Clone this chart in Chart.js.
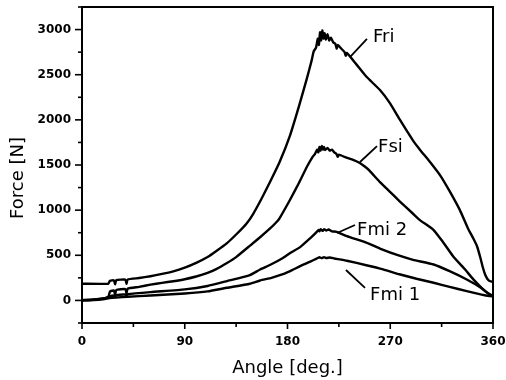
<!DOCTYPE html>
<html>
<head>
<meta charset="utf-8">
<script src="https://cdn.jsdelivr.net/npm/chart.js@4/dist/chart.umd.min.js"></script>
<style>
  html, body { margin: 0; padding: 0; background: #fff; }
  #wrap { width: 506px; height: 380px; }
</style>
</head>
<body>
<div id="wrap"><canvas id="chart" width="506" height="380"></canvas></div>
<script>
// angle in degrees, force in N
const angleFri = [0, 23, 24.5, 28, 29, 30, 38, 39, 40, 50, 60, 68, 80, 90, 100, 110, 118, 127, 135, 144, 150, 157, 165, 173, 182, 190, 197, 201, 203, 205, 206.5, 207.5, 208.5, 209.5, 210.5, 211.5, 212.5, 213.5, 215, 216.5, 218, 220, 222, 223, 224, 227, 230, 231, 232, 240, 249, 261, 270, 278, 290, 296, 305, 314, 322, 331, 338, 343, 346, 349, 351, 353, 355, 357, 360];
const forceFri = [185, 185, 218, 222, 178, 224, 230, 185, 232, 248, 268, 288, 322, 362, 415, 480, 550, 635, 730, 850, 960, 1120, 1320, 1530, 1820, 2150, 2460, 2650, 2760, 2800, 2900, 2830, 2970, 2880, 2990, 2900, 2960, 2890, 2950, 2880, 2910, 2860, 2840, 2790, 2830, 2790, 2750, 2710, 2740, 2620, 2480, 2330, 2180, 2010, 1770, 1670, 1530, 1380, 1210, 1000, 800, 680, 600, 470, 370, 290, 240, 215, 205];

const angleFsi = [0, 10, 20, 23, 24.5, 28, 29, 30, 38, 39, 40, 50, 60, 70, 80, 90, 100, 110, 118, 127, 135, 147, 156, 165, 170, 173, 182, 190, 197, 202, 204, 206, 207, 208, 209, 210, 211, 212, 213, 215, 217, 219, 221, 223, 224, 225, 230, 238, 243, 248, 252, 261, 270, 278, 290, 296, 308, 316, 325, 335, 343, 350, 355, 360];
const forceFsi = [5, 10, 25, 35, 100, 110, 65, 115, 125, 80, 130, 150, 175, 195, 213, 235, 265, 305, 350, 415, 480, 605, 700, 800, 863, 910, 1110, 1300, 1480, 1590, 1620, 1670, 1640, 1700, 1660, 1710, 1670, 1700, 1665, 1690, 1660, 1670, 1640, 1620, 1590, 1615, 1590, 1555, 1525, 1480, 1435, 1310, 1200, 1100, 960, 890, 780, 650, 490, 350, 230, 140, 85, 50];

const angleFmi2 = [0, 10, 20, 24, 28, 29, 30, 38, 39, 40, 60, 90, 110, 127, 147, 156, 165, 176, 183, 191, 200, 205, 207, 208, 209, 211, 212, 214, 216, 219, 223, 232, 249, 261, 278, 290, 308, 322, 337, 349, 357, 360];
const forceFmi2 = [0, 8, 25, 45, 55, 40, 58, 65, 55, 68, 92, 122, 160, 214, 280, 343, 395, 470, 530, 590, 690, 750, 780, 765, 790, 770, 790, 775, 785, 765, 760, 712, 640, 575, 495, 450, 398, 324, 232, 144, 66, 45];

const angleFmi1 = [0, 10, 20, 24, 30, 40, 60, 90, 110, 127, 147, 156, 166, 176, 184, 191, 200, 205, 208, 210, 212, 214, 217, 221, 232, 249, 262, 278, 293, 308, 322, 337, 350, 357, 360];
const forceFmi1 = [0, 3, 15, 25, 32, 40, 55, 77, 100, 140, 185, 221, 250, 290, 335, 380, 430, 460, 478, 468, 480, 470, 475, 465, 440, 390, 350, 290, 240, 196, 150, 103, 65, 48, 45];

const xTicks = [0, 90, 180, 270, 360];
const yTicks = [0, 500, 1000, 1500, 2000, 2500, 3000];

// curve labels, anchored in data units
const curveLabels = ['Fri', 'Fsi', 'Fmi 2', 'Fmi 1'];
const labelAnchor = [[254.9, 2862], [259.3, 1644], [240.9, 725], [252.3, 5]];
const leaderFrom = [[234.7, 2696], [243.5, 1533], [223.4, 747], [231.2, 337]];
const leaderTo = [[249.6, 2896], [258.4, 1710], [239.1, 836], [247.9, 138]];

const toPoints = (xs, ys) => xs.map((a, i) => ({ x: a, y: ys[i] }));

function line(label, xs, ys) {
    return {
        label: label,
        data: toPoints(xs, ys),
        borderColor: '#000',
        borderWidth: 2.4,
        pointRadius: 0,
        tension: 0.15,
        fill: false
    };
}

const decorPlugin = {
    id: 'decor',
    afterDraw(chart) {
        const ctx = chart.ctx;
        const area = chart.chartArea;
        const xs = chart.scales.x;
        const ys = chart.scales.y;
        ctx.save();
        ctx.strokeStyle = '#000';
        ctx.fillStyle = '#000';

        // frame
        ctx.lineWidth = 2;
        ctx.strokeRect(area.left, area.top, area.right - area.left, area.bottom - area.top);

        // ticks: major where labelled, minor in between
        ctx.lineWidth = 1.6;
        ys.ticks.forEach(t => {
            const py = ys.getPixelForValue(t.value);
            const len = yTicks.includes(t.value) ? 7 : 4;
            ctx.beginPath();
            ctx.moveTo(area.left - len, py);
            ctx.lineTo(area.left, py);
            ctx.stroke();
        });
        xs.ticks.forEach(t => {
            const px = xs.getPixelForValue(t.value);
            const len = xTicks.includes(t.value) ? 6 : 4;
            ctx.beginPath();
            ctx.moveTo(px, area.bottom);
            ctx.lineTo(px, area.bottom + len);
            ctx.stroke();
        });

        // axis titles
        ctx.font = '18px "DejaVu Sans"';
        ctx.textAlign = 'center';
        ctx.textBaseline = 'middle';
        ctx.fillText('Angle [deg.]', (area.left + area.right) / 2, 368);
        ctx.save();
        ctx.translate(18, 178);
        ctx.rotate(-Math.PI / 2);
        ctx.fillText('Force [N]', 0, 0);
        ctx.restore();

        // curve labels with leader lines
        ctx.textAlign = 'left';
        ctx.textBaseline = 'alphabetic';
        ctx.lineWidth = 1.8;
        curveLabels.forEach((txt, i) => {
            ctx.fillText(txt, xs.getPixelForValue(labelAnchor[i][0]), ys.getPixelForValue(labelAnchor[i][1]));
            ctx.beginPath();
            ctx.moveTo(xs.getPixelForValue(leaderFrom[i][0]), ys.getPixelForValue(leaderFrom[i][1]));
            ctx.lineTo(xs.getPixelForValue(leaderTo[i][0]), ys.getPixelForValue(leaderTo[i][1]));
            ctx.stroke();
        });
        ctx.restore();
    }
};

Chart.defaults.font.family = '"DejaVu Sans"';
Chart.defaults.color = '#000';

new Chart(document.getElementById('chart'), {
    type: 'line',
    data: {
        datasets: [
            line('Fri', angleFri, forceFri),
            line('Fsi', angleFsi, forceFsi),
            line('Fmi 2', angleFmi2, forceFmi2),
            line('Fmi 1', angleFmi1, forceFmi1)
        ]
    },
    options: {
        responsive: false,
        animation: false,
        layout: { padding: { top: 7, right: 13, left: 0, bottom: 0 } },
        plugins: { legend: { display: false }, tooltip: { enabled: false } },
        scales: {
            x: {
                type: 'linear',
                min: 0, max: 360,
                grid: { display: false, drawTicks: false },
                border: { display: false },
                ticks: {
                    stepSize: 45,
                    autoSkip: false,
                    maxRotation: 0,
                    padding: 12,
                    font: { size: 12, weight: 'bold' },
                    callback: v => xTicks.includes(v) ? String(v) : ''
                },
                afterFit(scale) {
                    scale.height = 57;
                    // drop the extra room chart.js keeps for the end labels
                    scale.paddingLeft = 0;
                    scale.paddingRight = 0;
                }
            },
            y: {
                type: 'linear',
                min: -250, max: 3250,
                grid: { display: false, drawTicks: false },
                border: { display: false },
                ticks: {
                    stepSize: 250,
                    autoSkip: false,
                    padding: 11,
                    font: { size: 12, weight: 'bold' },
                    callback: v => yTicks.includes(v) ? String(v) : ''
                },
                afterFit(scale) {
                    scale.width = 82;
                    scale.paddingTop = 0;
                    scale.paddingBottom = 0;
                }
            }
        }
    },
    plugins: [decorPlugin]
});
</script>
</body>
</html>
